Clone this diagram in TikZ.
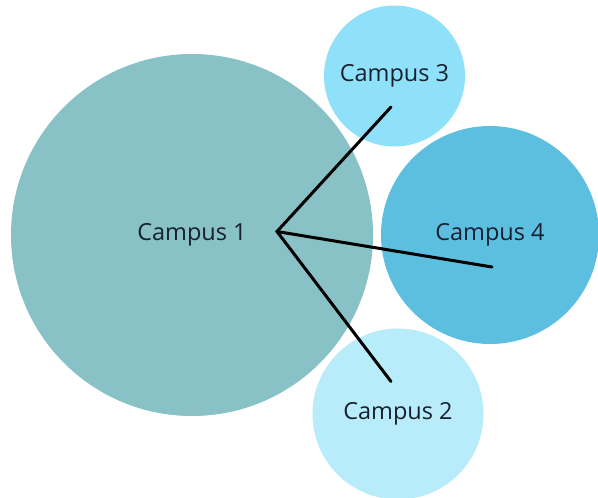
\documentclass[tikz,border=0pt]{standalone}
\usepackage{fontspec}
\setmainfont{Open Sans}
\usepackage{xcolor}
\usetikzlibrary{positioning}

\definecolor{campusA}{HTML}{88C1C6}
\definecolor{campusB}{HTML}{B9ECFB}
\definecolor{campusC}{HTML}{8FE1FA}
\definecolor{campusD}{HTML}{5DBFE0}
\definecolor{inktext}{HTML}{17202E}

\begin{document}
\begin{tikzpicture}[x=1pt, y=-1pt,
		campus/.style={circle, inner sep=0pt, text=inktext, font=\fontsize{23.5}{27}\selectfont},
		link/.style={line width=3pt, line cap=round, black}]
			\useasboundingbox (0,0) rectangle (598,498);
			\node[campus, fill=campusA, minimum size=362pt] (c1) at (192,235) {Campus 1};
			\node[campus, fill=campusC, minimum size=141pt] (c3) at (394.5,76) {Campus 3};
			\node[campus, fill=campusD, minimum size=218pt] (c4) at (490,235) {Campus 4};
			\node[campus, fill=campusB, minimum size=171pt] (c2) at (398,414) {Campus 2};
			
			\coordinate (hub) at (277,231.5);
			\coordinate (e3) at (391,107);
			\coordinate (e4) at (492,267);
			\coordinate (e2) at (391,381.5);
			
			\draw[link] (e3) -- (hub) -- (e2);
			\draw[link] (hub) -- (e4);
		\end{tikzpicture}
\end{document}
